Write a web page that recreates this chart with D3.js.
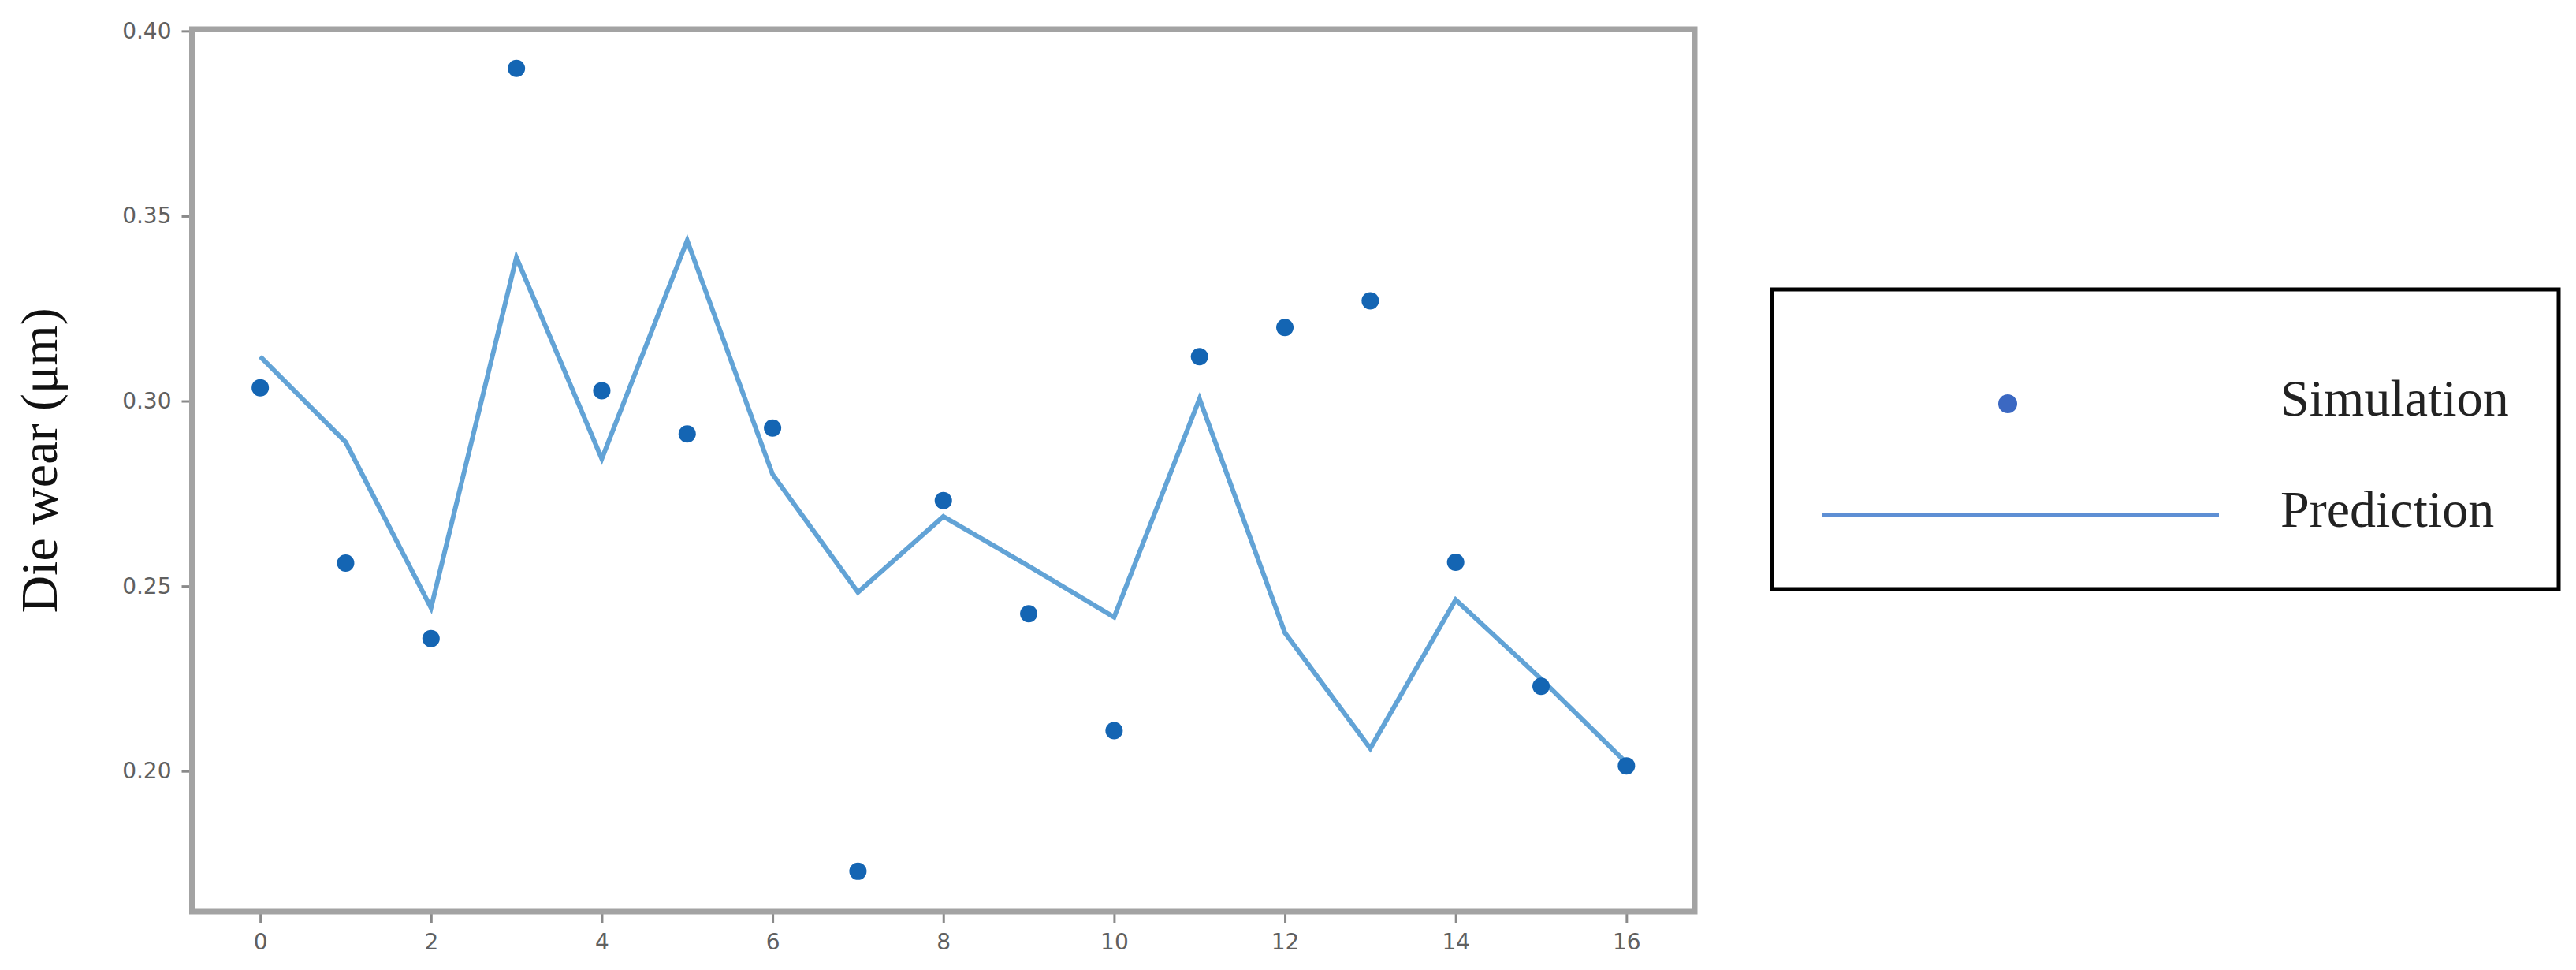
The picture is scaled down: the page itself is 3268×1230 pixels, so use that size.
<!DOCTYPE html>
<html>
<head>
<meta charset="utf-8">
<script src="https://d3js.org/d3.v7.min.js"></script>
<style>
  html, body { margin: 0; padding: 0; background: #fff; }
  svg { display: block; }
</style>
</head>
<body>
<svg id="chart" width="3268" height="1230"></svg>
<script>
try{

/*========================================
	Data
========================================*/
var steps = [0, 1, 2, 3, 4, 5, 6, 7, 8, 9, 10, 11, 12, 13, 14, 15, 16];

var simulation = [0.3036, 0.2562, 0.2358, 0.3899, 0.3028, 0.2911, 0.2927, 0.1729, 0.2731,
	0.2425, 0.2109, 0.3120, 0.3199, 0.3271, 0.2564, 0.2229, 0.2014];

var prediction = [0.3120, 0.2889, 0.2441, 0.3388, 0.2844, 0.3434, 0.2802, 0.2483, 0.2688,
	0.2554, 0.2416, 0.3006, 0.2374, 0.2061, 0.2463, 0.2249, 0.2022];

var xTicks = [0, 2, 4, 6, 8, 10, 12, 14, 16];
var yTicks = [0.20, 0.25, 0.30, 0.35, 0.40];

var legendLabels = ["Simulation", "Prediction"];
var yLabel = "Die wear (\u03bcm)";

/*========================================
	Plot area
========================================*/
var plot = { left: 243.5, right: 2150, top: 37, bottom: 1156 };

var svg = d3.select("#chart");

var x = d3.scaleLinear().domain([-0.8, 16.8]).range([plot.left, plot.right]);
var y = d3.scaleLinear().domain([0.162, 0.4005]).range([plot.bottom, plot.top]);

// axes first, frame drawn over them
var xAxis = svg.append("g")
	.attr("transform", "translate(0," + plot.bottom + ")")
	.call(d3.axisBottom(x).tickValues(xTicks).tickSize(14).tickPadding(14).tickFormat(d3.format("d")));

var yAxis = svg.append("g")
	.attr("transform", "translate(" + plot.left + ",0)")
	.call(d3.axisLeft(y).tickValues(yTicks).tickSize(13).tickPadding(13).tickFormat(d3.format(".2f")));

[xAxis, yAxis].forEach(function(ax){
	ax.select(".domain").remove();
	ax.selectAll(".tick line").attr("stroke", "#8a8a8a").attr("stroke-width", 3);
	ax.selectAll(".tick text")
		.attr("fill", "#606060")
		.style("font-family", "'DejaVu Sans', sans-serif")
		.style("font-size", "28px");
});

svg.append("rect")
	.attr("x", plot.left)
	.attr("y", plot.top)
	.attr("width", plot.right - plot.left)
	.attr("height", plot.bottom - plot.top)
	.attr("fill", "none")
	.attr("stroke", "#a3a3a3")
	.attr("stroke-width", 7);

/*========================================
	Series
========================================*/
var line = d3.line()
	.x(function(d, i){ return x(steps[i]); })
	.y(function(d){ return y(d); });

svg.append("path")
	.datum(prediction)
	.attr("d", line)
	.attr("fill", "none")
	.attr("stroke", "#62a3d6")
	.attr("stroke-width", 6)
	.attr("stroke-linejoin", "miter");

svg.selectAll("circle.sim")
	.data(simulation)
	.enter().append("circle")
	.attr("class", "sim")
	.attr("cx", function(d, i){ return x(steps[i]); })
	.attr("cy", function(d){ return y(d); })
	.attr("r", 11)
	.attr("fill", "#1465b3");

/*========================================
	Y label
========================================*/
svg.append("text")
	.attr("transform", "translate(72,584) rotate(-90)")
	.attr("text-anchor", "middle")
	.attr("fill", "#111")
	.style("font-family", "'Liberation Serif', 'DejaVu Serif', serif")
	.style("font-size", "66px")
	.text(yLabel);

/*========================================
	Legend
========================================*/
var legend = svg.append("g");

legend.append("rect")
	.attr("x", 2248)
	.attr("y", 367)
	.attr("width", 998)
	.attr("height", 380)
	.attr("fill", "#fff")
	.attr("stroke", "#000")
	.attr("stroke-width", 5);

legend.append("circle")
	.attr("cx", 2547)
	.attr("cy", 512)
	.attr("r", 12)
	.attr("fill", "#3b68c2");

legend.append("line")
	.attr("x1", 2311).attr("x2", 2815)
	.attr("y1", 653).attr("y2", 653)
	.attr("stroke", "#5e8fd4")
	.attr("stroke-width", 6);

legend.selectAll("text.lab")
	.data(legendLabels)
	.enter().append("text")
	.attr("class", "lab")
	.attr("x", 2893)
	.attr("y", function(d, i){ return i == 0 ? 527 : 668; })
	.attr("fill", "#222")
	.style("font-family", "'Liberation Serif', 'DejaVu Serif', serif")
	.style("font-size", "66px")
	.text(function(d){ return d; });

} catch (e) {
	console.log(e);
}
</script>
</body>
</html>
